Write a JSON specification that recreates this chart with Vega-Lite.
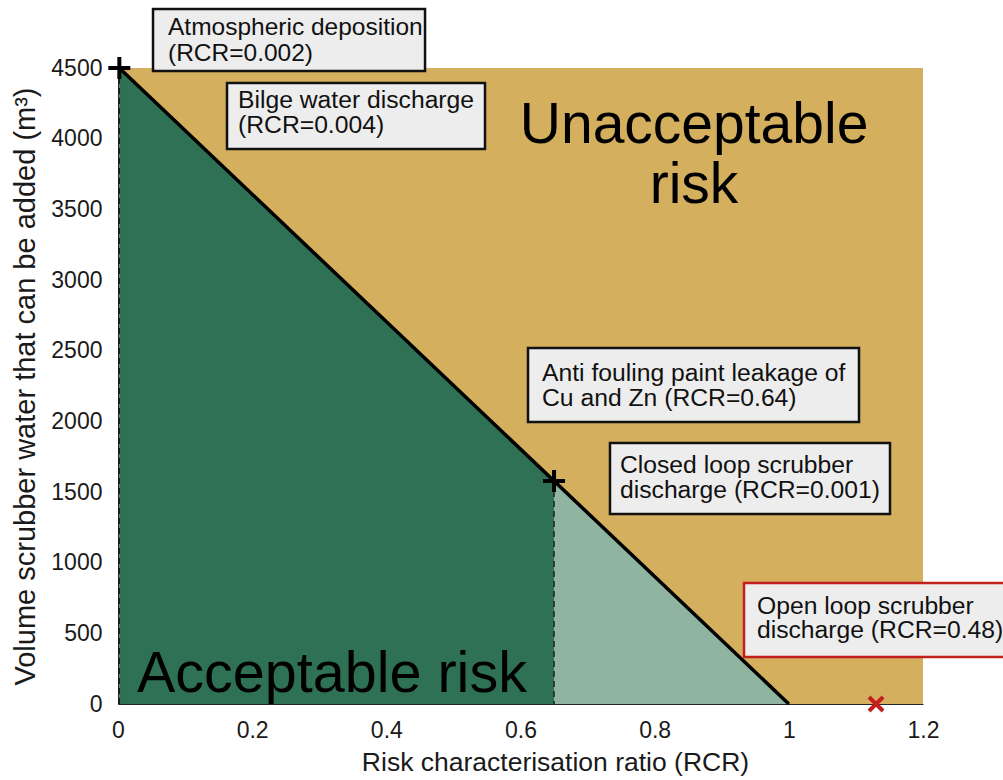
{
  "$schema": "https://vega.github.io/schema/vega-lite/v6.json",
  "width": 805,
  "height": 636,
  "autosize": {"type": "none"},
  "padding": {"left": 118, "top": 68, "right": 80, "bottom": 76},
  "background": "white",
  "config": {
    "font": "Liberation Sans",
    "view": {"fill": "#D4AF5E", "stroke": null},
    "axis": {"grid": false, "ticks": false, "labelFlush": false, "labelOverlap": false, "domainColor": "#262626", "domainWidth": 1, "labelColor": "#1a1a1a", "titleColor": "#1a1a1a", "labelFont": "Liberation Sans", "titleFont": "Liberation Sans", "titleFontWeight": "normal"}
  },
  "datasets": {
    "zones": [
      {"rcr": 0.002, "volume": 4500, "zone": "acceptable"},
      {"rcr": 0.65, "volume": 1578, "zone": "acceptable"},
      {"rcr": 0.65, "volume": 1578, "zone": "scrubber"},
      {"rcr": 1.0, "volume": 0, "zone": "scrubber"}
    ],
    "limit": [
      {"rcr": 0.002, "volume": 4500},
      {"rcr": 1.0, "volume": 0}
    ],
    "sources": [
      {"source": "Atmospheric deposition + bilge water", "rcr": 0.002, "volume": 4500},
      {"source": "Anti fouling paint leakage", "rcr": 0.65, "volume": 1578}
    ],
    "openloop": [
      {"source": "Open loop scrubber discharge", "rcr": 1.13, "volume": 0}
    ]
  },
  "layer": [
    {
      "data": {"name": "zones"},
      "mark": {"type": "area", "interpolate": "linear"},
      "encoding": {
        "x": {"field": "rcr", "type": "quantitative", "scale": {"domain": [0, 1.2], "nice": false},
              "axis": {"title": "Risk characterisation ratio (RCR)", "values": [0, 0.2, 0.4, 0.6, 0.8, 1, 1.2], "format": "~g", "labelFontSize": 23, "titleFontSize": 26.5, "labelPadding": 15, "titlePadding": 7, "titleX": 437}},
        "y": {"field": "volume", "type": "quantitative", "stack": null, "scale": {"domain": [0, 4500], "nice": false},
              "axis": {"title": "Volume scrubber water that can be added (m³)", "values": [0, 500, 1000, 1500, 2000, 2500, 3000, 3500, 4000, 4500], "format": "d", "labelFontSize": 23, "titleFontSize": 29, "labelPadding": 16, "titlePadding": 10}},
        "color": {"field": "zone", "type": "nominal", "scale": {"domain": ["acceptable", "scrubber"], "range": ["#2E7154", "#8FB5A1"]}, "legend": null}
      }
    },
    {
      "data": {"name": "sources"},
      "mark": {"type": "rule", "color": "#1a1a1a", "strokeWidth": 1.4, "strokeDash": [6, 4]},
      "encoding": {
        "x": {"field": "rcr", "type": "quantitative"},
        "y": {"field": "volume", "type": "quantitative"},
        "y2": {"datum": 0}
      }
    },
    {
      "data": {"name": "limit"},
      "mark": {"type": "line", "color": "black", "strokeWidth": 3.5},
      "encoding": {
        "x": {"field": "rcr", "type": "quantitative"},
        "y": {"field": "volume", "type": "quantitative"}
      }
    },
    {
      "data": {"name": "sources"},
      "mark": {"type": "point", "shape": "M-1,0L1,0M0,-1L0,1", "filled": false, "stroke": "black", "strokeWidth": 4, "size": 484, "opacity": 1},
      "encoding": {
        "x": {"field": "rcr", "type": "quantitative"},
        "y": {"field": "volume", "type": "quantitative"}
      }
    },
    {
      "data": {"name": "openloop"},
      "mark": {"type": "point", "shape": "M-1,-1L1,1M-1,1L1,-1", "filled": false, "stroke": "#C41E1E", "strokeWidth": 4, "size": 196, "opacity": 1},
      "encoding": {
        "x": {"field": "rcr", "type": "quantitative"},
        "y": {"field": "volume", "type": "quantitative"}
      }
    },
    {
      "data": {"values": [{}]},
      "mark": {"type": "rect", "fill": "#EDEDED", "stroke": "#111111", "strokeWidth": 2.5},
      "encoding": {"x": {"datum": 0.0522}, "x2": {"datum": 0.4577}, "y": {"datum": 4917}, "y2": {"datum": 4479}}
    },
    {
      "data": {"values": [{}]},
      "mark": {"type": "rect", "fill": "#EDEDED", "stroke": "#111111", "strokeWidth": 2.5},
      "encoding": {"x": {"datum": 0.1625}, "x2": {"datum": 0.5471}, "y": {"datum": 4394}, "y2": {"datum": 3927}}
    },
    {
      "data": {"values": [{}]},
      "mark": {"type": "rect", "fill": "#EDEDED", "stroke": "#111111", "strokeWidth": 2.5},
      "encoding": {"x": {"datum": 0.6112}, "x2": {"datum": 1.1046}, "y": {"datum": 2519}, "y2": {"datum": 1995}}
    },
    {
      "data": {"values": [{}]},
      "mark": {"type": "rect", "fill": "#EDEDED", "stroke": "#111111", "strokeWidth": 2.5},
      "encoding": {"x": {"datum": 0.7334}, "x2": {"datum": 1.1508}, "y": {"datum": 1847}, "y2": {"datum": 1344}}
    },
    {
      "data": {"values": [{}]},
      "mark": {"type": "rect", "fill": "#EDEDED", "stroke": "#C41E1E", "strokeWidth": 2.5},
      "encoding": {"x": {"datum": 0.9332}, "x2": {"datum": 1.34}, "y": {"datum": 856}, "y2": {"datum": 333}}
    },
    {
      "data": {"values": [{}]},
      "mark": {"type": "text", "text": ["Atmospheric deposition", "(RCR=0.002)"], "align": "left", "baseline": "alphabetic", "fontSize": 24.5, "lineHeight": 25.5, "color": "#111111"},
      "encoding": {"x": {"datum": 0.0745}, "y": {"datum": 4730}}
    },
    {
      "data": {"values": [{}]},
      "mark": {"type": "text", "text": ["Bilge water discharge", "(RCR=0.004)"], "align": "left", "baseline": "alphabetic", "fontSize": 24.7, "lineHeight": 25, "color": "#111111"},
      "encoding": {"x": {"datum": 0.1789}, "y": {"datum": 4217}}
    },
    {
      "data": {"values": [{}]},
      "mark": {"type": "text", "text": ["Anti fouling paint leakage of", "Cu and Zn (RCR=0.64)"], "align": "left", "baseline": "alphabetic", "fontSize": 24.7, "lineHeight": 24.5, "color": "#111111"},
      "encoding": {"x": {"datum": 0.6321}, "y": {"datum": 2285}}
    },
    {
      "data": {"values": [{}]},
      "mark": {"type": "text", "text": ["Closed loop scrubber", "discharge (RCR=0.001)"], "align": "left", "baseline": "alphabetic", "fontSize": 24.7, "lineHeight": 24.5, "color": "#111111"},
      "encoding": {"x": {"datum": 0.7483}, "y": {"datum": 1634}}
    },
    {
      "data": {"values": [{}]},
      "mark": {"type": "text", "text": ["Open loop scrubber", "discharge (RCR=0.48)"], "align": "left", "baseline": "alphabetic", "fontSize": 24.7, "lineHeight": 24.5, "color": "#111111"},
      "encoding": {"x": {"datum": 0.9525}, "y": {"datum": 637}}
    },
    {
      "data": {"values": [{}]},
      "mark": {"type": "text", "text": ["Unacceptable", "risk"], "align": "center", "baseline": "alphabetic", "fontSize": 57, "lineHeight": 60, "color": "#000000"},
      "encoding": {"x": {"datum": 0.8587}, "y": {"datum": 3969}}
    },
    {
      "data": {"values": [{}]},
      "mark": {"type": "text", "text": "Acceptable risk", "align": "left", "baseline": "alphabetic", "fontSize": 57.5, "color": "#000000"},
      "encoding": {"x": {"datum": 0.0283}, "y": {"datum": 85}}
    }
  ]
}
